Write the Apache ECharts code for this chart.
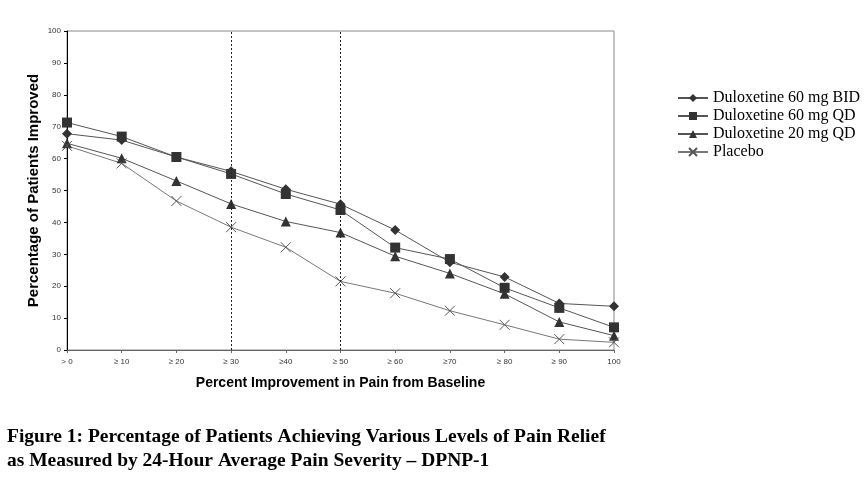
<!DOCTYPE html>
<html>
<head>
<meta charset="utf-8">
<script src="https://cdn.jsdelivr.net/npm/echarts@6/dist/echarts.min.js"></script>
<style>html,body{margin:0;padding:0;background:#fff}#c{width:864px;height:482px}</style>
</head>
<body>
<div id="c"></div>
<script>
const categories = ['> 0', '≥ 10', '≥ 20', '≥ 30', '≥40', '≥ 50', '≥ 60', '≥70', '≥ 80', '≥ 90', '100'];
const yTicks = [0, 10, 20, 30, 40, 50, 60, 70, 80, 90, 100];
const bid60 = [67.8, 65.8, 60.5, 56, 50.4, 45.7, 37.6, 27.5, 22.9, 14.6, 13.7];
const qd60 = [71.3, 66.9, 60.5, 55.2, 48.9, 43.9, 32.1, 28.5, 19.5, 13.2, 7.1];
const qd20 = [64.8, 60.1, 53, 45.8, 40.3, 36.8, 29.4, 24, 17.6, 8.8, 4.5];
const placebo = [64, 58.5, 46.7, 38.5, 32.2, 21.5, 17.8, 12.3, 7.9, 3.4, 2.4];
const seriesNames = ['Duloxetine 60 mg BID', 'Duloxetine 60 mg QD', 'Duloxetine 20 mg QD', 'Placebo'];
const refLines = ['≥ 30', '≥ 50'];

const chart = echarts.init(document.getElementById('c'));
const xPath = 'path://M0,0L10,10M10,0L0,10';
function mk(name, data, symbol, size, lineColor, markColor, extra) {
  return Object.assign({
    name: name, type: 'line', data: data, symbol: symbol, symbolSize: size,
    lineStyle: {color: lineColor, width: 1},
    itemStyle: {color: markColor, borderColor: markColor, borderWidth: 0},
    animation: false
  }, extra || {});
}
chart.setOption({
  animation: false,
  grid: {left: 67, right: 250, top: 31, bottom: 132, show: true, borderColor: '#888', borderWidth: 1},
  legend: {
    orient: 'vertical', left: 672, top: 85, itemGap: 2, itemWidth: 30, itemHeight: 10,
    textStyle: {fontFamily: 'Liberation Serif', fontSize: 16, color: '#000'},
    data: seriesNames
  },
  xAxis: {
    type: 'category', data: categories, boundaryGap: false,
    axisLine: {lineStyle: {color: '#666', width: 1}},
    axisTick: {show: true, length: 3, lineStyle: {color: '#666'}},
    axisLabel: {fontFamily: 'Liberation Sans', fontSize: 8, color: '#333', margin: 8, interval: 0},
    name: 'Percent Improvement in Pain from Baseline', nameLocation: 'middle', nameGap: 26,
    nameTextStyle: {fontFamily: 'Liberation Sans', fontSize: 14, fontWeight: 'bold', color: '#000'},
    splitLine: {show: false}
  },
  yAxis: {
    type: 'value', min: 0, max: 100, interval: 10,
    axisLine: {show: true, lineStyle: {color: '#000', width: 1}},
    axisTick: {show: true, length: 3, lineStyle: {color: '#000'}},
    axisLabel: {fontFamily: 'Liberation Sans', fontSize: 8, color: '#333', margin: 6,
      formatter: function (v) { return yTicks.indexOf(v) >= 0 ? String(v) : ''; }},
    splitLine: {show: false},
    name: 'Percentage of Patients Improved', nameLocation: 'middle', nameGap: 26,
    nameMoveOverlap: false,
    nameTextStyle: {fontFamily: 'Liberation Sans', fontSize: 15, fontWeight: 'bold', color: '#000'}
  },
  series: [
    mk(seriesNames[0], bid60, 'diamond', 10, '#555', '#333', {
      markLine: {
        silent: true, symbol: 'none', label: {show: false},
        lineStyle: {color: '#222', type: [2, 2], width: 1},
        data: refLines.map(c => ({xAxis: c}))
      }
    }),
    mk(seriesNames[1], qd60, 'rect', 10, '#555', '#333'),
    mk(seriesNames[2], qd20, 'triangle', 10, '#555', '#333'),
    mk(seriesNames[3], placebo, xPath, 10, '#777', '#666', {
      itemStyle: {color: 'none', borderColor: '#555', borderWidth: 1}
    })
  ],
  graphic: [
    {type: 'text', left: 7, top: 427, style: {text: 'Figure 1: Percentage of Patients Achieving Various Levels of Pain Relief', fontFamily: 'Liberation Serif', fontSize: 19.5, fontWeight: 'bold', fill: '#000'}},
    {type: 'text', left: 7, top: 451, style: {text: 'as Measured by 24-Hour Average Pain Severity – DPNP-1', fontFamily: 'Liberation Serif', fontSize: 19.5, fontWeight: 'bold', fill: '#000'}}
  ]
});
</script>
</body>
</html>
